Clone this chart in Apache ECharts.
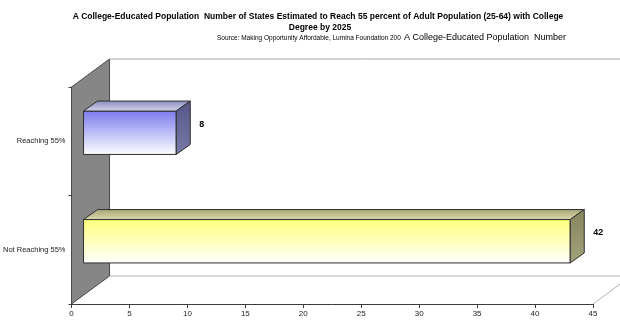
<!DOCTYPE html>
<html>
<head>
<meta charset="utf-8">
<style>
  html, body { margin: 0; padding: 0; background: #ffffff; }
  #chart { width: 620px; height: 329px; }
</style>
<script src="https://cdn.jsdelivr.net/npm/echarts@6/dist/echarts.min.js"></script>
</head>
<body>
<div id="chart"></div>
<script>
// Categories run bottom-to-top on the category axis
var categories = ['Not Reaching 55%', 'Reaching 55%'];
var stateCounts = [42, 8];
var xTickMin = 0;
var xTickMax = 45;
var xTickStep = 5;

var titleLine1 = 'A College-Educated Population  Number of States Estimated to Reach 55 percent of Adult Population (25-64) with College';
var titleLine2 = 'Degree by 2025';
var sourceText = 'Source: Making Opportunity Affordable, Lumina Foundation 200';
var sourceTail = 'A College-Educated Population  Number';

// Fake 3-D depth of the plot box and of each bar (pixels)
var WALL_DX = 38, WALL_DY = -28;
var BAR_OFF_X = 12, BAR_OFF_Y = -8.5;
var BAR_DX = 14, BAR_DY = -10;

var barFaces = [
  { // yellow
    front: ['#ffff7a', '#ffffff'],
    top: ['#a4a474', '#dcdcae'],
    side: ['#85855e', '#a2a27a']
  },
  { // blue
    front: ['#7b7bef', '#ffffff'],
    top: ['#8c8cbc', '#d4d4ee'],
    side: ['#565688', '#7a7aa8']
  }
];

function vgrad(c) {
  return new echarts.graphic.LinearGradient(0, 0, 0, 1, [
    { offset: 0, color: c[0] }, { offset: 1, color: c[1] }
  ]);
}

var chart = echarts.init(document.getElementById('chart'), null, { renderer: 'canvas' });

function renderWalls(params, api) {
  var cs = params.coordSys;
  var x0 = cs.x, y0 = cs.y, x1 = cs.x + cs.width, y1 = cs.y + cs.height;
  return {
    type: 'group',
    children: [
      { // back wall top edge
        type: 'line', silent: true,
        shape: { x1: x0 + WALL_DX, y1: y0 + WALL_DY, x2: x1 + WALL_DX, y2: y0 + WALL_DY },
        style: { stroke: '#a8a8a8', lineWidth: 1 }
      },
      { // floor back edge
        type: 'line', silent: true,
        shape: { x1: x0 + WALL_DX, y1: y1 + WALL_DY, x2: x1 + WALL_DX, y2: y1 + WALL_DY },
        style: { stroke: '#b4b4b4', lineWidth: 1 }
      },
      { // floor right edge
        type: 'line', silent: true,
        shape: { x1: x1, y1: y1, x2: x1 + WALL_DX, y2: y1 + WALL_DY },
        style: { stroke: '#b4b4b4', lineWidth: 1 }
      },
      { // left wall
        type: 'polygon', silent: true,
        shape: { points: [[x0, y0], [x0 + WALL_DX, y0 + WALL_DY], [x0 + WALL_DX, y1 + WALL_DY], [x0, y1]] },
        style: { fill: '#868686', stroke: '#4a4a4a', lineWidth: 1 }
      }
    ]
  };
}

function renderBar(params, api) {
  var val = api.value(0);
  var cat = api.value(1);
  var p0 = api.coord([0, cat]);
  var p1 = api.coord([val, cat]);
  var band = api.size([0, 1])[1];
  var h = band * 0.4;
  var xl = p0[0] + BAR_OFF_X, xr = p1[0] + BAR_OFF_X;
  var cy = p0[1] + BAR_OFF_Y;
  var yt = cy - h / 2, yb = cy + h / 2;
  var f = barFaces[params.dataIndex];
  var edge = { stroke: '#2e2e2e', lineWidth: 1 };
  return {
    type: 'group',
    children: [
      {
        type: 'rect',
        shape: { x: xl, y: yt, width: xr - xl, height: yb - yt },
        style: Object.assign({ fill: vgrad(f.front) }, edge)
      },
      {
        type: 'polygon',
        shape: { points: [[xl, yt], [xl + BAR_DX, yt + BAR_DY], [xr + BAR_DX, yt + BAR_DY], [xr, yt]] },
        style: Object.assign({ fill: vgrad(f.top) }, edge)
      },
      {
        type: 'polygon',
        shape: { points: [[xr, yt], [xr + BAR_DX, yt + BAR_DY], [xr + BAR_DX, yb + BAR_DY], [xr, yb]] },
        style: Object.assign({ fill: vgrad(f.side) }, edge)
      },
      {
        type: 'text',
        style: {
          x: xr + BAR_DX + 9, y: cy - 8.5,
          text: String(val),
          fill: '#000000',
          font: 'bold 9px "Liberation Sans", Arial, sans-serif',
          align: 'left', verticalAlign: 'middle'
        }
      }
    ]
  };
}

var option = {
  backgroundColor: '#ffffff',
  animation: false,
  grid: { left: 67, right: 27, top: 87, bottom: 25, containLabel: false },
  xAxis: {
    type: 'value',
    min: xTickMin, max: xTickMax, interval: xTickStep,
    axisLine: { show: true, lineStyle: { color: '#3c3c3c', width: 1 } },
    axisTick: { show: true, length: 4, lineStyle: { color: '#3c3c3c' } },
    axisLabel: { fontSize: 8, color: '#222222', margin: 6, fontFamily: '"Liberation Sans", Arial, sans-serif' },
    splitLine: { show: false }
  },
  yAxis: {
    type: 'category',
    data: categories,
    axisLine: { show: true, lineStyle: { color: '#3c3c3c', width: 1 } },
    axisTick: { show: true, length: 3, lineStyle: { color: '#3c3c3c' } },
    axisLabel: { fontSize: 7.5, color: '#222222', margin: 6, fontFamily: '"Liberation Sans", Arial, sans-serif' },
    splitLine: { show: false }
  },
  graphic: [
    {
      type: 'text', x: 318, y: 17,
      style: { text: titleLine1, font: 'bold 8.5px "Liberation Sans", Arial, sans-serif', fill: '#000', align: 'center', verticalAlign: 'middle' }
    },
    {
      type: 'text', x: 320, y: 27.5,
      style: { text: titleLine2, font: 'bold 8.5px "Liberation Sans", Arial, sans-serif', fill: '#000', align: 'center', verticalAlign: 'middle' }
    },
    {
      type: 'text', x: 217, y: 38,
      style: { text: sourceText, font: '6.5px "Liberation Sans", Arial, sans-serif', fill: '#000', verticalAlign: 'middle' }
    },
    {
      type: 'text', x: 404, y: 38,
      style: { text: sourceTail, font: '9px "Liberation Sans", Arial, sans-serif', fill: '#000', verticalAlign: 'middle' }
    }
  ],
  series: [
    {
      type: 'custom',
      name: 'walls',
      coordinateSystem: 'cartesian2d',
      silent: true,
      z: 1,
      data: [[0, 0]],
      renderItem: renderWalls
    },
    {
      type: 'custom',
      name: 'Number of States',
      coordinateSystem: 'cartesian2d',
      z: 3,
      encode: { x: 0, y: 1 },
      data: stateCounts.map(function (v, i) { return [v, i]; }),
      renderItem: renderBar
    }
  ]
};

chart.setOption(option);
</script>
</body>
</html>
